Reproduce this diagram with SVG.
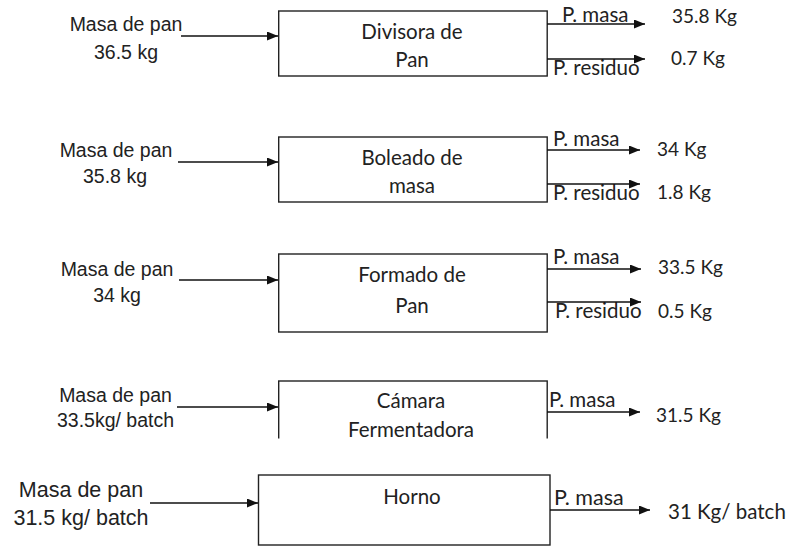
<svg xmlns="http://www.w3.org/2000/svg" width="792" height="547" viewBox="0 0 792 547">
<style>
.box{fill:#fff;stroke:#222;stroke-width:1.4}
.in{font-family:"Liberation Sans",Arial,sans-serif;font-size:19.5px;fill:#222;text-anchor:middle}
.in5{font-size:21.5px}
.bt{font-family:Lato,"Open Sans",sans-serif;font-size:20.5px;fill:#222;text-anchor:middle}
.lb{font-family:Lato,"Open Sans",sans-serif;font-size:20.5px;fill:#222}
.vl{font-size:19px}
.big{font-size:21.5px}
.bv{font-size:20.5px}
.ln{stroke:#111;stroke-width:1.6;fill:none;marker-end:url(#ah)}
</style>
<defs>
<marker id="ah" viewBox="0 0 11 9" refX="11" refY="4.5" markerWidth="11" markerHeight="9" markerUnits="userSpaceOnUse" orient="auto">
<path d="M0,0 L11,4.5 L0,9 Z" fill="#111"/>
</marker>
<clipPath id="clip4"><rect x="0" y="370" width="792" height="68.5"/></clipPath>
</defs>
<rect width="792" height="547" fill="#fff"/>

<g id="divisora">
<rect class="box" x="278.7" y="11" width="268.5" height="65"/>
<text class="bt" x="412" y="39">Divisora de</text>
<text class="bt" x="412" y="67">Pan</text>
</g>
<g id="boleado">
<rect class="box" x="278.7" y="137" width="268.5" height="65"/>
<text class="bt" x="412" y="165">Boleado de</text>
<text class="bt" x="412" y="193">masa</text>
</g>
<g id="formado">
<rect class="box" x="278.7" y="254" width="268.5" height="78"/>
<text class="bt" x="412" y="282">Formado de</text>
<text class="bt" x="412" y="313">Pan</text>
</g>
<g id="camara" clip-path="url(#clip4)">
<rect class="box" x="278.7" y="381" width="268.5" height="80"/>
<text class="bt" x="411" y="408">Cámara</text>
<text class="bt" x="411" y="437">Fermentadora</text>
</g>
<g id="horno">
<rect class="box" x="258.5" y="475" width="291.5" height="70"/>
<text class="bt" x="412" y="504">Horno</text>
</g>

<g id="labels">
<text class="in" x="126" y="31">Masa de pan</text>
<text class="in" x="126" y="59">36.5 kg</text>
<text class="in" x="116" y="157">Masa de pan</text>
<text class="in" x="115" y="183">35.8 kg</text>
<text class="in" x="117" y="276">Masa de pan</text>
<text class="in" x="117" y="302">34 kg</text>
<text class="in" x="115.5" y="402">Masa de pan</text>
<text class="in" x="115.5" y="427">33.5kg/ batch</text>
<text class="in in5" x="81" y="497">Masa de pan</text>
<text class="in in5" x="81" y="525">31.5 kg/ batch</text>

<text class="lb" x="562" y="22">P. masa</text>
<text class="lb" x="553" y="75">P. residuo</text>
<text class="lb vl" x="672" y="23">35.8 Kg</text>
<text class="lb vl" x="671" y="65">0.7 Kg</text>

<text class="lb" x="553" y="146">P. masa</text>
<text class="lb" x="553" y="200">P. residuo</text>
<text class="lb vl" x="657" y="156">34 Kg</text>
<text class="lb vl" x="657" y="199">1.8 Kg</text>

<text class="lb" x="553" y="264">P. masa</text>
<text class="lb" x="555" y="318">P. residuo</text>
<text class="lb vl" x="658" y="274">33.5 Kg</text>
<text class="lb vl" x="658" y="318">0.5 Kg</text>

<text class="lb" x="549" y="407">P. masa</text>
<text class="lb vl" x="656" y="422">31.5 Kg</text>

<text class="lb big" x="554" y="505">P. masa</text>
<text class="lb bv" x="668" y="519">31 Kg/ batch</text>
</g>

<g id="connectors">
<line class="ln" x1="181" y1="36" x2="278" y2="36"/>
<line class="ln" x1="547" y1="24" x2="645" y2="24"/>
<line class="ln" x1="547" y1="59" x2="645" y2="59"/>

<line class="ln" x1="178" y1="162" x2="278" y2="162"/>
<line class="ln" x1="547" y1="150" x2="640" y2="150"/>
<line class="ln" x1="547" y1="184" x2="640" y2="184"/>

<line class="ln" x1="179" y1="280" x2="278" y2="280"/>
<line class="ln" x1="547" y1="269" x2="641" y2="269"/>
<line class="ln" x1="547" y1="302" x2="641" y2="302"/>

<line class="ln" x1="177" y1="407" x2="278" y2="407"/>
<line class="ln" x1="547" y1="412" x2="640" y2="412"/>

<line class="ln" x1="150" y1="503" x2="258" y2="503"/>
<line class="ln" x1="550" y1="510" x2="650" y2="510"/>
</g>
</svg>
